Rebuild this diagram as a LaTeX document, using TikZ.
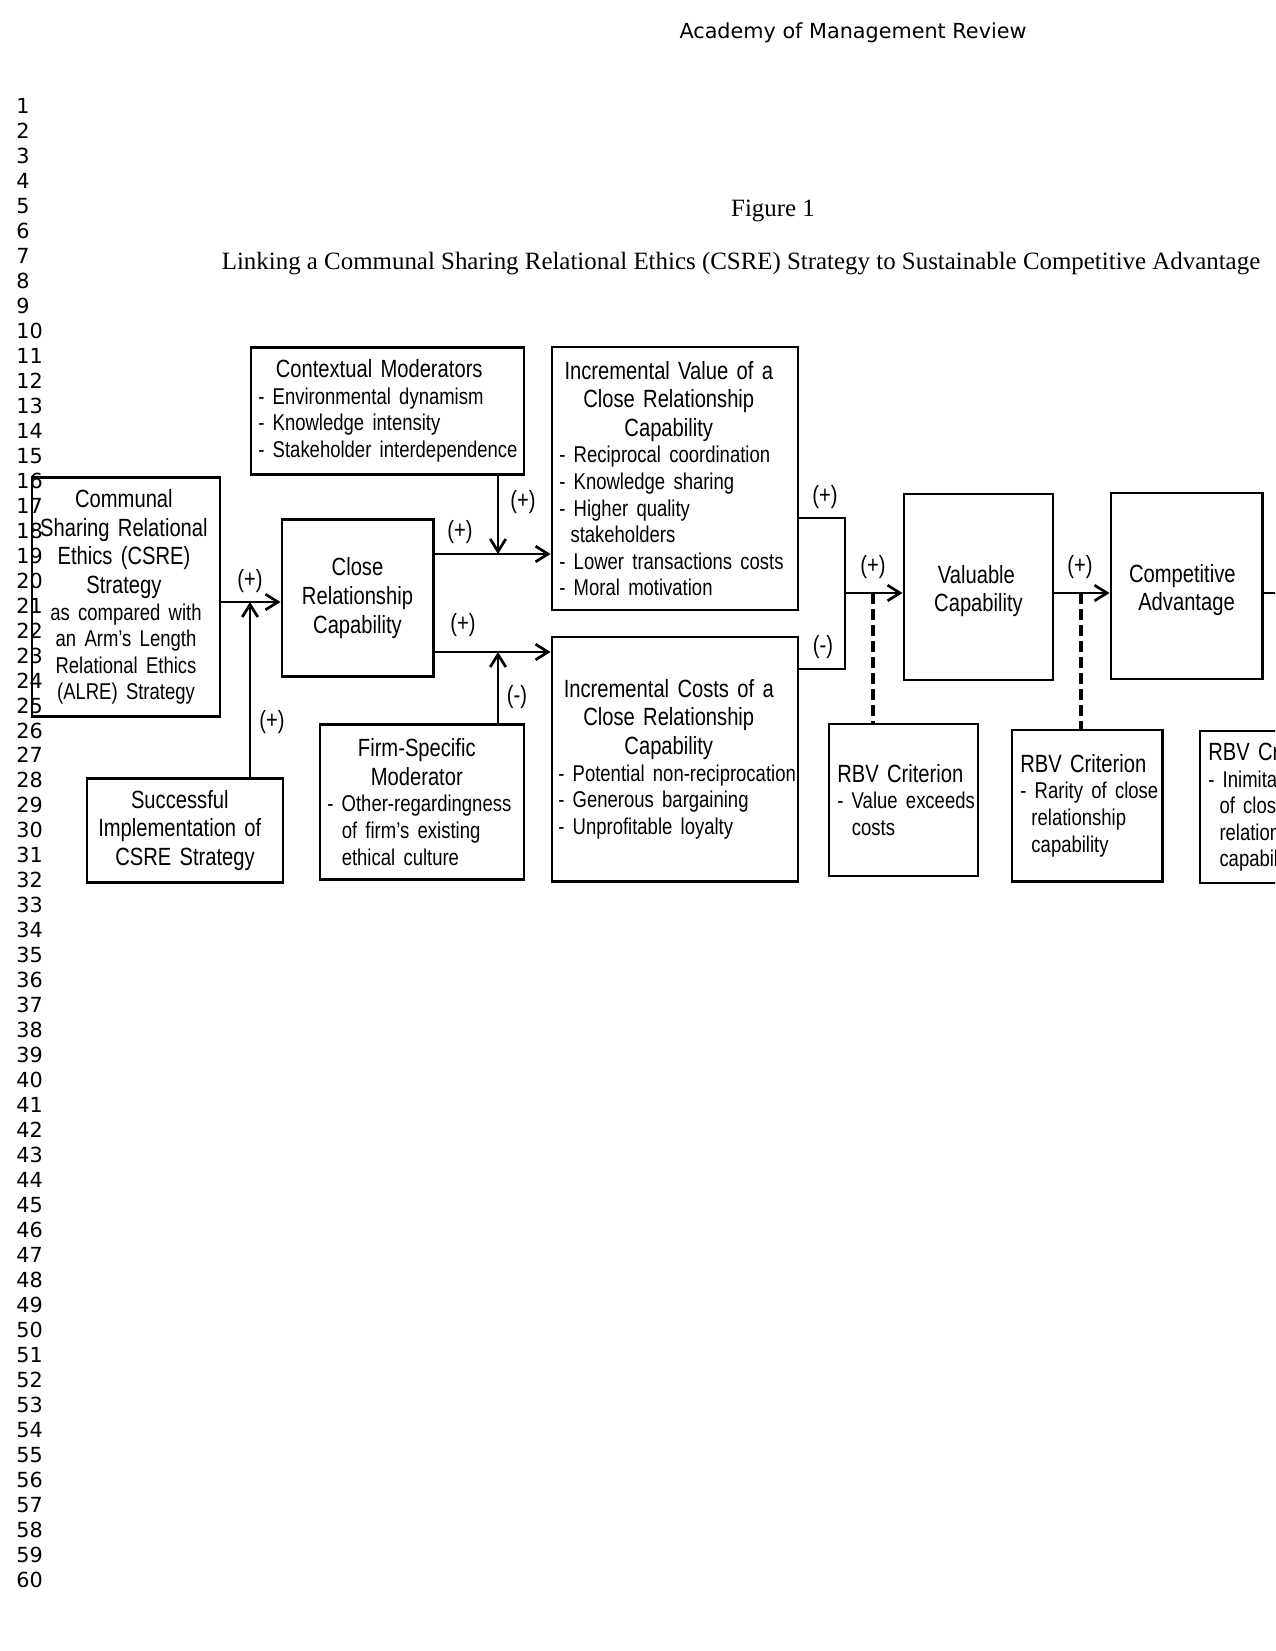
\documentclass[tikz,border=0pt]{standalone}
\usepackage{fontspec}
\setmainfont{Liberation Serif}
\newfontfamily\narrowsans{Liberation Sans}[FakeStretch=0.81]
\newfontfamily\numsans{DejaVu Sans}
\usepackage{tikz}
\usetikzlibrary{arrows.meta}

\newcommand{\boxhead}{\narrowsans\fontsize{12}{13.8}\selectfont}
\newcommand{\boxitem}{\narrowsans\fontsize{11}{12.8}\selectfont}
\newcommand{\headshift}[1]{\advance\rightskip by #1\relax}

\begin{document}
\begin{tikzpicture}[x=0.4818pt, y=-0.4818pt,
    box/.style 2 args={draw, line width=1.4pt, inner sep=0pt, align=left, font=\boxhead,
        text width=#1, minimum width=#1, minimum height=#2},
    link/.style={line width=1.3pt, -{Straight Barb[length=6pt,width=7.5pt]}},
    joint/.style={line width=1.3pt},
    rbv/.style={line width=1.5pt, dash pattern=on 5.5pt off 2.2pt},
    sign/.style={font=\boxhead, inner sep=0pt},
    lineno/.style={font=\numsans\fontsize{10}{12}\selectfont, anchor=base west, inner sep=0pt}]

    % Page
    \path[use as bounding box] (0,0) rectangle (1275,1651);
    \clip (0,0) rectangle (1275,1651);
    \fill[white] (0,0) rectangle (1275,1651);

    % Running head and caption
    \node[font=\numsans\fontsize{10}{12}\selectfont, anchor=base] (head) at (853,39) {Academy of Management Review};
    \node[font=\fontsize{12}{14}\selectfont, anchor=base] (fig) at (773,217) {Figure 1};
    \node[font=\fontsize{12}{14}\selectfont, anchor=base] (title) at (741,270)
        {Linking a Communal Sharing Relational Ethics (CSRE) Strategy to Sustainable Competitive Advantage};

    % Boxes
    \node[box={90.6pt}{115.2pt}, align=center] (csre) at (126,597)
        {{\headshift{2pt}Communal\\Sharing Relational\\Ethics (CSRE)\\Strategy\par}
         {\boxitem as compared with\\an Arm’s Length\\Relational Ethics\\(ALRE) Strategy\par}};
    \node[box={72.8pt}{75.6pt}, align=center] (close) at (357.5,598)
        {Close\\Relationship\\Capability};
    \node[box={94.4pt}{50.1pt}, align=center] (success) at (185,830.5)
        {\headshift{5pt}Successful\\Implementation of\\CSRE Strategy};
    \node[box={131.5pt}{61.2pt}] (ctxmod) at (387.5,411)
        {{\centering\headshift{8pt}Contextual Moderators\par}
         {\boxitem\leftskip=3.5pt - Environmental dynamism\\- Knowledge intensity\\- Stakeholder interdependence\par}};
    \node[box={98.3pt}{74.7pt}] (firmmod) at (422,802)
        {{\centering\headshift{5pt}Firm-Specific\\Moderator\par}
         {\boxitem\leftskip=3.5pt - Other-regardingness\\\hspace*{7pt}of firm’s existing\\\hspace*{7pt}ethical culture\par}};
    \node[box={118.5pt}{126.7pt}] (incval) at (675,478.5)
        {{\centering\headshift{6pt}Incremental Value of a\\Close Relationship\\Capability\par}
         {\boxitem\leftskip=3.5pt - Reciprocal coordination\\- Knowledge sharing\\- Higher quality\\\hspace*{5.4pt}stakeholders\\- Lower transactions costs\\- Moral motivation\par}};
    \node[box={118.5pt}{117.6pt}] (inccost) at (675,759)
        {{\centering\headshift{6pt}Incremental Costs of a\\Close Relationship\\Capability\par}
         {\boxitem\leftskip=3pt - Potential non-reciprocation\\- Generous bargaining\\- Unprofitable loyalty\par}};
    \node[box={71.8pt}{89.6pt}, align=center] (valcap) at (978.5,587)
        {\headshift{2pt}\rule{0pt}{12.5pt}Valuable\\Capability};
    \node[box={72.8pt}{89.6pt}, align=center] (compadv) at (1186.5,586)
        {\headshift{4pt}\rule{0pt}{12.5pt}Competitive\\Advantage};
    \node[box={71.8pt}{73.2pt}] (rbvval) at (903.5,800)
        {{\leftskip=4pt RBV Criterion\par}
         {\boxitem\leftskip=4pt - Value exceeds\\\hspace*{7pt}costs\par}};
    \node[box={72.3pt}{72.8pt}] (rbvrare) at (1087,805.5)
        {{\leftskip=4pt RBV Criterion\par}
         {\boxitem\leftskip=4pt - Rarity of close\\\hspace*{5.4pt}relationship\\\hspace*{5.4pt}capability\par}};
    \node[box={72.3pt}{73.2pt}] (rbvinim) at (1275,807)
        {{\leftskip=4pt RBV Criterion\par}
         {\boxitem\leftskip=4pt - Inimitability\\\hspace*{5.4pt}of close\\\hspace*{5.4pt}relationship\\\hspace*{5.4pt}capability\par}};

    % Junctions
    \coordinate (j1) at (250,602);
    \coordinate (j2) at (498,554);
    \coordinate (j3) at (498,652);
    \coordinate (mv) at (845,518);
    \coordinate (mc) at (845,669);
    \coordinate (j4) at (845,593);
    \coordinate (d1) at (873,593);
    \coordinate (d2) at (1081,593);
    \coordinate (offpage) at (1300,593);

    % Connectors
    \draw[link] (csre.east |- j1) -- (close.west |- j1);
    \draw[link] (success.north -| j1) -- (j1);
    \draw[link] (close.east |- j2) -- (incval.west |- j2);
    \draw[link] (ctxmod.south -| j2) -- (j2);
    \draw[link] (close.east |- j3) -- (inccost.west |- j3);
    \draw[link] (firmmod.north -| j3) -- (j3);
    \draw[joint] (incval.east |- mv) -- (mv) -- (mc) -- (inccost.east |- mc);
    \draw[link] (j4) -- (valcap.west |- j4);
    \draw[link] (valcap.east |- j4) -- (compadv.west |- j4);
    \draw[joint] (compadv.east |- j4) -- (offpage);
    \draw[rbv] (d1) -- (rbvval.north -| d1);
    \draw[rbv] (d2) -- (rbvrare.north -| d2);

    % Signs
    \node[sign] (s1) at (250,581) {(+)};
    \node[sign] (s2) at (272,722) {(+)};
    \node[sign] (s3) at (460,532) {(+)};
    \node[sign] (s4) at (523,502) {(+)};
    \node[sign] (s5) at (463,625) {(+)};
    \node[sign] (s6) at (517,697) {(-)};
    \node[sign] (s7) at (825,497) {(+)};
    \node[sign] (s8) at (823,647) {(-)};
    \node[sign] (s9) at (873,567) {(+)};
    \node[sign] (s10) at (1080,567) {(+)};

    % Line numbers
    \foreach \n in {1,...,60}
        \node[lineno] (ln\n) at (16,{113.5+(\n-1)*24.98}) {\n};
\end{tikzpicture}
\end{document}
